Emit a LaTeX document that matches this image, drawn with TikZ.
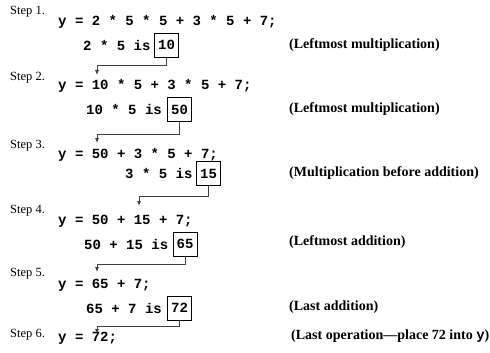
\documentclass[tikz,border=0pt]{standalone}
\usepackage{fontspec}
\setmainfont{Liberation Serif}
\setmonofont{Liberation Mono}
\usetikzlibrary{arrows.meta}
\begin{document}
\begin{tikzpicture}[x=1pt, y=-1pt, every node/.style={inner sep=0pt},
  steplabel/.style={anchor=west, font=\fontsize{12.5}{14}\selectfont},
  code/.style={anchor=west, font=\fontsize{14}{16}\selectfont\ttfamily\bfseries},
  result/.style={draw, line width=0.9pt, minimum width=24pt, minimum height=24pt, font=\fontsize{14}{16}\selectfont\ttfamily\bfseries},
  remark/.style={anchor=west, font=\fontsize{14}{16}\selectfont\bfseries},
  link/.style={line width=0.8pt, draw=black!75, -{Latex[length=5pt,width=4pt]}}]
\useasboundingbox (0,0) rectangle (490,353);
% step labels
\node[steplabel] (st1) at (10,12) {Step 1.};
\node[steplabel] (st2) at (10,78) {Step 2.};
\node[steplabel] (st3) at (10,146) {Step 3.};
\node[steplabel] (st4) at (10,211) {Step 4.};
\node[steplabel] (st5) at (10,274) {Step 5.};
\node[steplabel] (st6) at (10,335) {Step 6.};
% statement after each step
\node[code] (y1) at (58,22) {y = 2 * 5 * 5 + 3 * 5 + 7;};
\node[code] (y2) at (58,86) {y = 10 * 5 + 3 * 5 + 7;};
\node[code] (y3) at (58,155) {y = 50 + 3 * 5 + 7;};
\node[code] (y4) at (58,221) {y = 50 + 15 + 7;};
\node[code] (y5) at (58,285) {y = 65 + 7;};
\node[code] (y6) at (58,338) {y = 72;};
% partial results
\node[code] (s1) at (83,45) {2 * 5 is};
\node[result] (b1) at (166.5,45) {10};
\node[code] (s2) at (86,109.5) {10 * 5 is};
\node[result] (b2) at (179.5,109.5) {50};
\node[code] (s3) at (125,173.5) {3 * 5 is};
\node[result] (b3) at (208.5,173.5) {15};
\node[code] (s4) at (84,244) {50 + 15 is};
\node[result] (b4) at (185,244) {65};
\node[code] (s5) at (86,308) {65 + 7 is};
\node[result] (b5) at (179.5,308) {72};
% remarks
\node[remark] (c1) at (289,45) {(Leftmost multiplication)};
\node[remark] (c2) at (289,109.5) {(Leftmost multiplication)};
\node[remark] (c3) at (289,173.5) {(Multiplication before addition)};
\node[remark] (c4) at (289,242) {(Leftmost addition)};
\node[remark] (c5) at (289,307) {(Last addition)};
\node[remark] (c6) at (291,336) {(Last operation---place 72 into {\ttfamily y})};
% connectors from each result into the next statement
\coordinate (e1) at (97,65);   \coordinate (t1) at (97,75);
\coordinate (e2) at (97,134);  \coordinate (t2) at (97,143);
\coordinate (e3) at (139,196); \coordinate (t3) at (139,206);
\coordinate (e4) at (97,264);  \coordinate (t4) at (97,272);
\coordinate (e5) at (97,326);  \coordinate (t5) at (97,334);
\draw[link] (b1.south) |- (e1) -- (t1);
\draw[link] (b2.south) |- (e2) -- (t2);
\draw[link] (b3.south) |- (e3) -- (t3);
\draw[link] (b4.south) |- (e4) -- (t4);
\draw[link] (b5.south) |- (e5) -- (t5);
\end{tikzpicture}
\end{document}
